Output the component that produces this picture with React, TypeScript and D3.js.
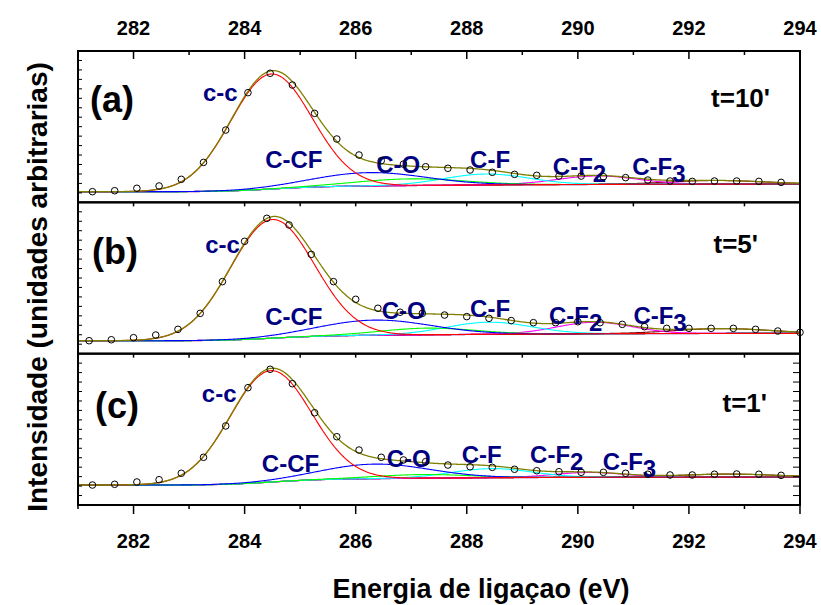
import React from "react";
import * as d3 from "d3";

// Binding energies (eV) of the measured points
const energyAC = [
  281.26, 281.66, 282.06, 282.46, 282.86, 283.26, 283.66, 284.06, 284.46, 284.86,
  285.26, 285.66, 286.06, 286.46, 286.86, 287.26, 287.66, 288.06, 288.46, 288.86,
  289.26, 289.66, 290.06, 290.46, 290.86, 291.26, 291.66, 292.06, 292.46, 292.86,
  293.26, 293.66,
];
const energyB = [
  281.2, 281.6, 282.0, 282.4, 282.8, 283.2, 283.6, 284.0, 284.4, 284.8,
  285.2, 285.6, 286.0, 286.4, 286.8, 287.2, 287.6, 288.0, 288.4, 288.8,
  289.2, 289.6, 290.0, 290.4, 290.8, 291.2, 291.6, 292.0, 292.4, 292.8,
  293.2, 293.6, 294.0,
];

// Measured C 1s intensities (arbitrary units)
const countsA = [
  0.088, 0.096, 0.116, 0.135, 0.19, 0.33, 0.597, 0.906, 1.066, 0.969,
  0.735, 0.523, 0.391, 0.344, 0.316, 0.294, 0.281, 0.267, 0.248, 0.231,
  0.223, 0.217, 0.217, 0.212, 0.204, 0.184, 0.176, 0.173, 0.176, 0.176,
  0.173, 0.165,
];
const countsB = [
  0.107, 0.115, 0.132, 0.154, 0.201, 0.333, 0.595, 0.928, 1.118, 1.063,
  0.82, 0.595, 0.449, 0.375, 0.342, 0.333, 0.319, 0.306, 0.292, 0.273,
  0.256, 0.256, 0.264, 0.256, 0.242, 0.223, 0.209, 0.209, 0.209, 0.209,
  0.201, 0.187, 0.176,
];
const countsC = [
  0.165, 0.171, 0.19, 0.209, 0.262, 0.394, 0.653, 0.969, 1.121, 1.002,
  0.762, 0.564, 0.454, 0.394, 0.372, 0.358, 0.33, 0.316, 0.311, 0.295,
  0.283, 0.275, 0.27, 0.27, 0.262, 0.254, 0.248, 0.248, 0.254, 0.256,
  0.254, 0.245,
];

// Fitted Gaussian components: C-C, C-CF, C-O, C-F, C-F2, C-F3
const componentNames = ["c-c", "C-CF", "C-O", "C-F", "C-F2", "C-F3"];
const componentColors = ["#ff0000", "#0000ff", "#00ff00", "#00ffff", "#ff00ff", "#800000"];

const centersA = [284.48, 286.25, 287.0, 288.35, 290.35, 292.5];
const fwhmA = [1.72, 2.4, 2.3, 1.8, 1.7, 2.0];
const heightsA = [0.95, 0.11, 0.055, 0.09, 0.07, 0.03];
const backgroundA = [0.088, 0.151];

const centersB = [284.5, 286.35, 287.3, 288.4, 290.3, 292.6];
const fwhmB = [1.78, 2.4, 2.0, 1.8, 1.6, 2.0];
const heightsB = [0.98, 0.125, 0.055, 0.1, 0.095, 0.04];
const backgroundB = [0.107, 0.168];

const centersC = [284.47, 286.35, 287.2, 288.45, 290.2, 292.7];
const fwhmC = [1.72, 2.3, 2.0, 1.7, 1.5, 2.0];
const heightsC = [0.92, 0.12, 0.03, 0.075, 0.04, 0.025];
const backgroundC = [0.165, 0.231];

const panelTags = ["(a)", "(b)", "(c)"];
const etchTimes = ["t=10'", "t=5'", "t=1'"];
const energyTicks = [282, 284, 286, 288, 290, 292, 294];
const minorEnergyTicks = [281, 283, 285, 287, 289, 291, 293];

// Where each component name sits, in (energy, intensity) coordinates
const labelSpotsA = [[283.25, 0.837], [284.37, 0.281], [286.37, 0.242], [288.06, 0.281], [289.55, 0.226], [290.98, 0.226]];
const labelSpotsB = [[283.29, 0.829], [284.37, 0.237], [286.47, 0.286], [288.06, 0.305], [289.48, 0.243], [291.0, 0.243]];
const labelSpotsC = [[283.23, 0.853], [284.31, 0.275], [286.56, 0.316], [287.91, 0.344], [289.14, 0.344], [290.45, 0.289]];

const panels = [
  { energy: energyAC, counts: countsA, centers: centersA, fwhm: fwhmA, heights: heightsA, bg: backgroundA, spots: labelSpotsA, tagDx: 12, tagDy: 61, timeX: 770, timeDy: 55.5 },
  { energy: energyB, counts: countsB, centers: centersB, fwhm: fwhmB, heights: heightsB, bg: backgroundB, spots: labelSpotsB, tagDx: 14, tagDy: 62, timeX: 758, timeDy: 51 },
  { energy: energyAC, counts: countsC, centers: centersC, fwhm: fwhmC, heights: heightsC, bg: backgroundC, spots: labelSpotsC, tagDx: 17, tagDy: 64, timeX: 767, timeDy: 58.5 },
];

const W = 821;
const H = 605;
const left = 78;
const right = 800;
const top = 51;
const bottom = 505;
const panelH = (bottom - top) / 3;
const FONT = "'Liberation Sans', Arial, Helvetica, sans-serif";

const x = d3.scaleLinear().domain([281, 294]).range([left, right]);
const yFor = (i: number) =>
  d3.scaleLinear().domain([0, 1.25]).range([top + (i + 1) * panelH, top + i * panelH]);

// Gaussian components on a Shirley-type background
function fitCurves(centers: number[], fwhm: number[], heights: number[], bg: number[]) {
  const step = 0.02;
  const grid = d3.range(281, 294 + step / 2, step);
  const comps = centers.map((c, i) =>
    grid.map((e) => heights[i] * Math.exp((-4 * Math.LN2 * (e - c) * (e - c)) / (fwhm[i] * fwhm[i])))
  );
  const sum = grid.map((_, j) => d3.sum(comps, (cc) => cc[j]));
  const cum: number[] = [0];
  for (let j = 1; j < grid.length; j++) cum[j] = cum[j - 1] + ((sum[j] + sum[j - 1]) / 2) * step;
  const total = cum[cum.length - 1];
  const base = grid.map((_, j) => bg[0] + ((bg[1] - bg[0]) * cum[j]) / total);
  return {
    grid,
    base,
    comps: comps.map((cc) => cc.map((v, j) => v + base[j])),
    envelope: sum.map((v, j) => v + base[j]),
  };
}

function Panel({ p, i }: { p: (typeof panels)[number]; i: number }) {
  const y = yFor(i);
  const fit = fitCurves(p.centers, p.fwhm, p.heights, p.bg);
  const line = (vals: number[]) =>
    d3
      .line<number>()
      .x((_, j) => x(fit.grid[j]))
      .y((v) => y(v))(vals) || "";
  const pTop = top + i * panelH;
  const clipId = `clip-${i}`;
  return (
    <g>
      <clipPath id={clipId}>
        <rect x={left} y={pTop} width={right - left} height={panelH} />
      </clipPath>
      <g clipPath={`url(#${clipId})`} fill="none">
        <path d={line(fit.base)} stroke="#800080" strokeWidth={1.3} />
        {fit.comps
          .map((c, k) => ({ c, k }))
          .reverse()
          .map(({ c, k }) => (
            <path key={k} d={line(c)} stroke={componentColors[k]} strokeWidth={1.1} />
          ))}
        <path d={line(fit.envelope)} stroke="#808000" strokeWidth={1.3} />
      </g>
      {componentNames.map((name, k) => {
        const m = name.match(/^(.*?)(\d)$/);
        const [e, v] = p.spots[k];
        return (
          <text
            key={name}
            x={x(e)}
            y={y(v)}
            fill="#000080"
            fontSize={24}
            fontWeight="bold"
            fontFamily={FONT}
          >
            {m ? m[1] : name}
            {m ? <tspan dy={7}>{m[2]}</tspan> : null}
          </text>
        );
      })}
      {p.energy.map((e, j) => (
        <circle key={j} cx={x(e)} cy={y(p.counts[j])} r={3.3} fill="none" stroke="#000" strokeWidth={1} />
      ))}
      <text x={left + p.tagDx} y={pTop + p.tagDy} fontSize={36} fontWeight="bold" fontFamily={FONT} fill="#000">
        {panelTags[i]}
      </text>
      <text
        x={p.timeX}
        y={pTop + p.timeDy}
        fontSize={26}
        fontWeight="bold"
        fontFamily={FONT}
        fill="#000"
        textAnchor="end"
      >
        {etchTimes[i]}
      </text>
    </g>
  );
}

export default function App() {
  const sideTicks = d3.range(1, 16).map((k) => (k * 1.25) / 16);
  return (
    <svg
      width={W}
      height={H}
      viewBox={`0 0 ${W} ${H}`}
      style={{ position: "absolute", left: 0, top: 0, background: "#fff" }}
    >
      <rect width={W} height={H} fill="#fff" />
      {panels.map((p, i) => (
        <Panel key={i} p={p} i={i} />
      ))}

      {/* side ticks */}
      {panels.map((_, i) => {
        const y = yFor(i);
        return (
          <g key={`st${i}`} stroke="#000" strokeWidth={1}>
            {sideTicks.map((v) => (
              <line key={`l${v}`} x1={left} x2={left + 4} y1={y(v)} y2={y(v)} />
            ))}
            {i === 2 &&
              sideTicks.map((v) => (
                <line key={`r${v}`} x1={right - 7} x2={right} y1={y(v)} y2={y(v)} />
              ))}
          </g>
        );
      })}

      {/* energy ticks on the top, internal and bottom edges */}
      <g stroke="#000" strokeWidth={1.5}>
        {energyTicks.map((e) => (
          <line key={`tM${e}`} x1={x(e)} x2={x(e)} y1={top} y2={top + 8} />
        ))}
        {minorEnergyTicks.map((e) => (
          <line key={`tm${e}`} x1={x(e)} x2={x(e)} y1={top} y2={top + 4} />
        ))}
        {[1, 2].map((k) =>
          [...energyTicks, ...minorEnergyTicks].map((e) => (
            <line key={`i${k}-${e}`} x1={x(e)} x2={x(e)} y1={top + k * panelH} y2={top + k * panelH + 4} />
          ))
        )}
        {energyTicks.map((e) => (
          <line key={`bM${e}`} x1={x(e)} x2={x(e)} y1={bottom} y2={bottom + 9} />
        ))}
        {minorEnergyTicks.map((e) => (
          <line key={`bm${e}`} x1={x(e)} x2={x(e)} y1={bottom} y2={bottom + 4} />
        ))}
      </g>

      {/* frames */}
      <g fill="none" stroke="#000" strokeWidth={2}>
        {panels.map((_, i) => (
          <rect key={`f${i}`} x={left} y={top + i * panelH} width={right - left} height={panelH} />
        ))}
      </g>

      {/* tick labels */}
      <g fontSize={20} fontWeight="bold" fontFamily={FONT} textAnchor="middle" fill="#000">
        {energyTicks.map((e) => (
          <text key={`tl${e}`} x={x(e)} y={35}>
            {e}
          </text>
        ))}
        {energyTicks.map((e) => (
          <text key={`bl${e}`} x={x(e)} y={548}>
            {e}
          </text>
        ))}
      </g>

      {/* axis titles */}
      <text x={481} y={598} fontSize={27} fontWeight="bold" fontFamily={FONT} textAnchor="middle" fill="#000">
        Energia de ligaçao (eV)
      </text>
      <text
        transform="translate(47,287) rotate(-90)"
        fontSize={28}
        fontWeight="bold"
        fontFamily={FONT}
        textAnchor="middle"
        fill="#000"
      >
        Intensidade (unidades arbitrarias)
      </text>
    </svg>
  );
}
